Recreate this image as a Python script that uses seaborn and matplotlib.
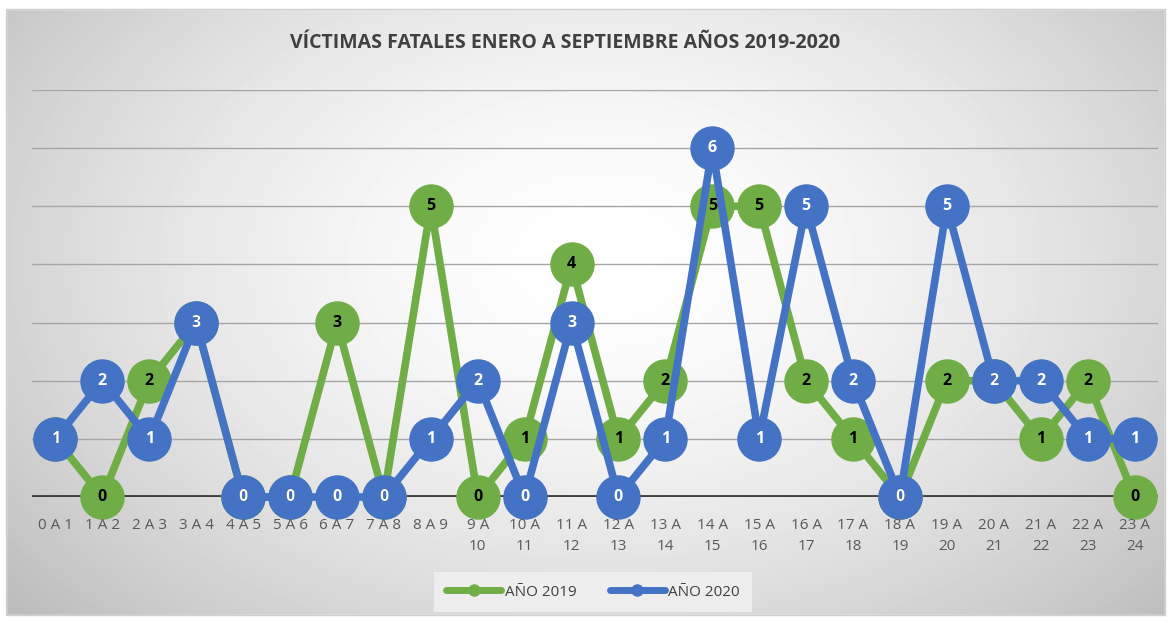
import seaborn as sns
import matplotlib.pyplot as plt
import pandas as pd
import numpy as np
from matplotlib.lines import Line2D
from matplotlib.patches import Rectangle

sns.set_style("white")
plt.rcParams['font.family'] = ['Open Sans', 'DejaVu Sans']

# data
horas = ["0 A 1", "1 A 2", "2 A 3", "3 A 4", "4 A 5", "5 A 6", "6 A 7", "7 A 8",
         "8 A 9", "9 A\n10", "10 A\n11", "11 A\n12", "12 A\n13", "13 A\n14",
         "14 A\n15", "15 A\n16", "16 A\n17", "17 A\n18", "18 A\n19", "19 A\n20",
         "20 A\n21", "21 A\n22", "22 A\n23", "23 A\n24"]
anio_2019 = [1, 0, 2, 3, 0, 0, 3, 0, 5, 0, 1, 4, 1, 2, 5, 5, 2, 1, 0, 2, 2, 1, 2, 0]
anio_2020 = [1, 2, 1, 3, 0, 0, 0, 0, 1, 2, 0, 3, 0, 1, 6, 1, 5, 2, 0, 5, 2, 2, 1, 1]
series = ["AÑO 2019", "AÑO 2020"]
colores = {"AÑO 2019": "#70AD47", "AÑO 2020": "#4472C4"}

pos = np.arange(len(horas))
df = pd.DataFrame({
    "pos": np.concatenate([pos, pos]),
    "valor": anio_2019 + anio_2020,
    "serie": np.repeat(series, len(horas)),
})

fig = plt.figure(figsize=(11.72, 6.23), dpi=100)

# radial gradient background
bg = fig.add_axes([0, 0, 1, 1], zorder=-5)
W, H = 1172, 623
yy, xx = np.mgrid[0:H, 0:W]
r = np.sqrt(((xx - 600) / 620.0) ** 2 + ((yy - 260) / 420.0) ** 2) / 1.25
r = np.clip(r, 0, 1)
g = 1.0 - 0.26 * r ** 1.6
bg.imshow(g, cmap="gray", vmin=0, vmax=1, extent=[0, W, H, 0], aspect="auto")
bg.add_patch(Rectangle((0, 0), W, 9, color="white"))
bg.add_patch(Rectangle((0, 0), 6, H, color="white"))
bg.add_patch(Rectangle((1165, 0), 10, H, color="white"))
bg.add_patch(Rectangle((0, 615), W, 10, color="white"))
bg.add_patch(Rectangle((6, 9), 1159, 606, fill=False, edgecolor="#d0d0d0", lw=1))
bg.set_xlim(0, W)
bg.set_ylim(H, 0)
bg.axis("off")

ax = fig.add_axes([32 / W, 1 - 497 / H, (1158 - 32) / W, (497 - 90) / H])
ax.patch.set_alpha(0)

sns.lineplot(data=df, x="pos", y="valor", hue="serie", palette=colores,
             marker="o", markersize=32, linewidth=5.5, markeredgewidth=0,
             legend=False, ax=ax, zorder=3)
for ln in ax.lines:
    ln.set_clip_on(False)

for x, v in zip(pos, anio_2019):
    ax.text(x, v, str(v), ha="center", va="center", fontsize=11.5,
            fontweight="bold", color="black", zorder=10)
for x, v in zip(pos, anio_2020):
    ax.text(x, v, str(v), ha="center", va="center", fontsize=11.5,
            fontweight="bold", color="white", zorder=10)

ax.set_xlim(-0.5, len(horas) - 0.5)
ax.set_ylim(0, 7)
for yv in range(1, 8):
    ax.axhline(yv, color="#a6a6a6", lw=1, zorder=0)
ax.axhline(0, color="#404040", lw=3.5, zorder=1)
ax.set_yticks([])
ax.set_xticks(pos)
ax.set_xticklabels(horas, fontsize=11, color="#595959", linespacing=1.6)
ax.tick_params(axis="x", length=0, pad=15)
ax.xaxis.set_zorder(11)
ax.set_xlabel("")
ax.set_ylabel("")
for s in ax.spines.values():
    s.set_visible(False)

fig.text(565 / W, 1 - 43 / H, "VÍCTIMAS FATALES ENERO A SEPTIEMBRE AÑOS 2019-2020",
         ha="center", va="center", fontsize=14, fontweight="bold", color="#404040")

handles = [Line2D([0], [0], color=colores[s], lw=5, marker="o", markersize=8,
                  solid_capstyle="round") for s in series]
leg = fig.legend(handles, series, loc="center", bbox_to_anchor=(0.506, 1 - 592 / H),
                 ncol=2, fontsize=11, frameon=True, handlelength=3.6,
                 columnspacing=2.2, handletextpad=0.2, borderpad=0.6)
leg.get_frame().set_facecolor("#f2f2f2")
leg.get_frame().set_edgecolor("none")
leg.get_frame().set_alpha(0.8)
leg.get_frame().set_boxstyle("square", pad=0.2)
for t in leg.get_texts():
    t.set_color("#404040")

fig.savefig("out.png", dpi=100)
